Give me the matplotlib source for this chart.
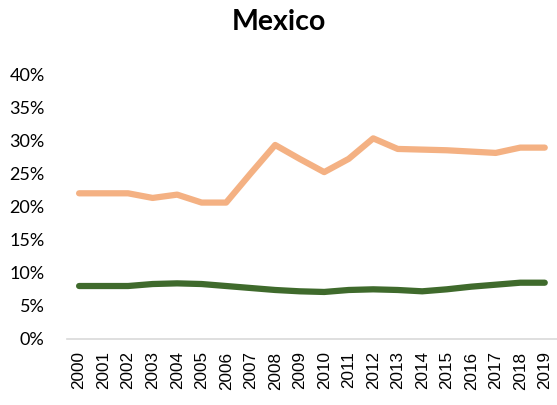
import matplotlib.pyplot as plt

years = [str(y) for y in range(2000, 2020)]
orange_series = [22.0, 22.0, 22.0, 21.3, 21.8, 20.6, 20.6, 25.0, 29.3, 27.2,
                 25.2, 27.2, 30.3, 28.7, 28.6, 28.5, 28.3, 28.1, 28.9, 28.9]
green_series = [8.0, 8.0, 8.0, 8.3, 8.4, 8.3, 8.0, 7.7, 7.4, 7.2,
                7.1, 7.4, 7.5, 7.4, 7.2, 7.5, 7.9, 8.2, 8.5, 8.5]
y_ticks = [0, 5, 10, 15, 20, 25, 30, 35, 40]

fig = plt.figure(figsize=(5.57, 4.05), dpi=100)
ax = fig.add_axes([0.12, 0.163, 0.88, 0.654])

x = list(range(len(years)))
ax.plot(x, orange_series, color="#F4B183", linewidth=4.5, solid_capstyle="round", solid_joinstyle="round")
ax.plot(x, green_series, color="#3F6A2C", linewidth=4.5, solid_capstyle="round", solid_joinstyle="round")

ax.set_xlim(-0.5, 19.5)
ax.set_ylim(0, 40)
ax.set_yticks(y_ticks)
ax.set_yticklabels([f"{t}%" for t in y_ticks], fontfamily="Lato", fontsize=13)
ax.set_xticks(x)
ax.set_xticklabels(years, rotation=90, fontfamily="Liberation Sans", fontsize=12.3)
ax.tick_params(axis="y", length=0, pad=16)
ax.tick_params(axis="x", length=0, pad=9)

for side in ["top", "right", "left"]:
    ax.spines[side].set_visible(False)
ax.spines["bottom"].set_color("#D9D9D9")
ax.spines["bottom"].set_linewidth(1.2)

fig.text(0.5, 0.945, "Mexico", ha="center", va="center", fontsize=20.5,
         fontweight="bold", fontfamily="Lato")

fig.savefig("out.png", dpi=100)
